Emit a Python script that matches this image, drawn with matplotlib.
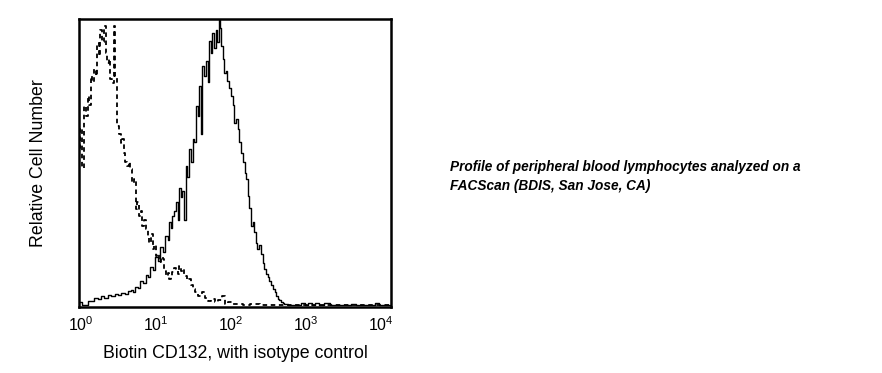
import numpy as np
import matplotlib.pyplot as plt

plt.rcParams['font.family'] = ['Liberation Sans', 'DejaVu Sans']
plt.rcParams['mathtext.fontset'] = 'custom'
plt.rcParams['mathtext.rm'] = 'Liberation Sans'
plt.rcParams['mathtext.it'] = 'Liberation Sans:italic'

# Biotin CD132 stained (solid), log10 fluorescence vs relative count
stain_log = [-0.02, 0.04, 0.08, 0.12, 0.16, 0.20, 0.25, 0.29, 0.34, 0.38, 0.43, 0.47,
             0.52, 0.56, 0.61, 0.65, 0.68, 0.71, 0.74, 0.78, 0.81, 0.85, 0.88, 0.91,
             0.94, 0.97, 1.01, 1.04, 1.08, 1.11, 1.14, 1.17, 1.19, 1.21, 1.23, 1.26,
             1.28, 1.30, 1.32, 1.34, 1.36, 1.38, 1.41, 1.43, 1.45, 1.48, 1.50, 1.52,
             1.54, 1.57, 1.59, 1.61, 1.63, 1.66, 1.68, 1.70, 1.72, 1.74, 1.76, 1.78,
             1.81, 1.83, 1.85, 1.86, 1.88, 1.90, 1.92, 1.94, 1.96, 1.99, 2.01, 2.03,
             2.05, 2.08, 2.10, 2.12, 2.14, 2.17, 2.19, 2.21, 2.23, 2.26, 2.28, 2.30,
             2.32, 2.34, 2.36, 2.39, 2.41, 2.43, 2.45, 2.48, 2.50, 2.52, 2.54, 2.57,
             2.59, 2.61, 2.63, 2.66, 2.68, 2.70, 2.72, 2.80, 2.90, 2.96, 3.00, 3.05,
             3.10, 3.14, 3.20, 3.28, 3.35, 3.45, 3.55, 3.63, 3.70, 3.80, 3.90, 3.94,
             4.00, 4.13]
stain_counts = [1.2, 0.3, 0.2, 1.5, 1.7, 2.8, 2.4, 3.4, 2.8, 3.6, 3.3, 4.0,
                3.6, 4.4, 4.1, 5.0, 5.4, 4.8, 6.6, 6.0, 8.7, 7.8, 10.6, 9.8,
                13.3, 12.5, 16.8, 15.6, 20.3, 18.8, 24.4, 22.8, 29.0, 27.0, 31.3, 33.0,
                36.0, 30.0, 41.0, 38.0, 40.0, 30.0, 48.7, 45.0, 54.5, 50.0, 58.0, 57.0,
                69.6, 66.0, 76.6, 60.0, 83.5, 80.0, 85.3, 78.0, 92.2, 88.0, 95.1, 90.0,
                96.3, 92.0, 100.0, 97.0, 90.5, 86.0, 81.2, 82.0, 78.3, 76.0, 73.1, 70.0,
                63.8, 65.0, 61.5, 57.0, 53.4, 50.0, 46.4, 44.0, 38.3, 34.0, 27.8, 29.0,
                25.5, 22.0, 19.7, 21.0, 18.0, 15.0, 12.8, 11.0, 9.9, 8.5, 7.0, 5.8,
                4.6, 3.3, 2.3, 1.8, 1.4, 0.9, 0.6, 0.3, 0.1, 0.8, 0.2, 0.9,
                0.3, 1.0, 0.2, 0.8, 0.1, 0.2, 0.1, 0.7, 0.1, 0.2, 0.1, 0.8,
                0.1, 0.1]

# Isotype control (dashed)
ctrl_log = [-0.02, 0.01, 0.03, 0.05, 0.08, 0.10, 0.12, 0.14, 0.17, 0.19, 0.21, 0.23,
            0.25, 0.27, 0.30, 0.32, 0.34, 0.36, 0.38, 0.41, 0.43, 0.45, 0.47, 0.50,
            0.52, 0.54, 0.56, 0.58, 0.61, 0.63, 0.65, 0.67, 0.70, 0.72, 0.74, 0.76,
            0.79, 0.81, 0.83, 0.85, 0.88, 0.90, 0.92, 0.94, 0.97, 0.99, 1.01, 1.03,
            1.05, 1.08, 1.10, 1.12, 1.14, 1.17, 1.19, 1.21, 1.23, 1.25, 1.28, 1.30,
            1.32, 1.34, 1.37, 1.39, 1.41, 1.43, 1.45, 1.48, 1.50, 1.54, 1.59, 1.63,
            1.68, 1.72, 1.76, 1.81, 1.85, 1.90, 1.94, 1.99, 2.05, 2.12, 2.20, 2.30,
            2.45, 2.60, 2.80, 3.00, 3.30, 3.60, 4.13]
ctrl_counts = [55.0, 62.0, 48.0, 69.6, 66.0, 73.0, 70.0, 80.0, 78.0, 82.4, 80.0, 91.6,
               87.0, 96.3, 92.0, 97.4, 88.0, 84.7, 86.0, 79.0, 77.7, 97.4, 80.0, 62.6,
               60.0, 56.8, 58.0, 53.4, 50.0, 48.7, 50.0, 47.6, 42.9, 44.0, 33.6, 36.0,
               31.3, 33.0, 27.8, 30.0, 26.7, 24.0, 22.0, 25.0, 19.7, 21.0, 17.4, 18.0,
               15.1, 17.0, 16.2, 12.0, 10.4, 11.5, 9.3, 10.0, 11.6, 13.0, 12.8, 11.0,
               13.9, 12.0, 12.8, 11.0, 10.4, 9.0, 9.3, 7.0, 5.8, 4.6, 3.5, 4.6,
               2.5, 1.7, 2.4, 1.2, 2.0, 3.5, 0.6, 1.2, 0.4, 0.6, 0.2, 0.4,
               0.1, 0.3, 0.1, 0.2, 0.1, 0.1, 0.1]

fig = plt.figure(figsize=(8.82, 3.73), dpi=100)
ax = fig.add_axes([0.0896, 0.177, 0.3537, 0.772])

ax.plot(10 ** np.array(ctrl_log), ctrl_counts, color='black', lw=1.3,
        linestyle=(0, (2.5, 2)), drawstyle='steps-mid')
ax.plot(10 ** np.array(stain_log), stain_counts, color='black', lw=1.0,
        drawstyle='steps-mid')

ax.set_xscale('log')
ax.set_xlim(10 ** -0.023, 10 ** 4.13)
ax.set_ylim(-0.5, 100)
ax.set_xticks([1, 10, 100, 1000, 10000])
ax.set_xticklabels(['$10^{0}$', '$10^{1}$', '$10^{2}$', '$10^{3}$', '$10^{4}$'])
ax.xaxis.set_minor_locator(plt.NullLocator())
ax.set_yticks([])
ax.tick_params(axis='x', length=0, pad=6, labelsize=11.5)
for s in ax.spines.values():
    s.set_linewidth(1.8)

ax.set_xlabel('Biotin CD132, with isotype control', fontsize=12.8, labelpad=8)
ax.set_ylabel('Relative Cell Number', fontsize=12.8, labelpad=23)

fig.text(0.510, 0.572, 'Profile of peripheral blood lymphocytes analyzed on a\nFACScan (BDIS, San Jose, CA)',
         fontsize=9.8, fontweight='bold', fontstyle='italic', va='top', ha='left',
         linespacing=1.5)

fig.savefig('out.png', dpi=100, facecolor='white')
